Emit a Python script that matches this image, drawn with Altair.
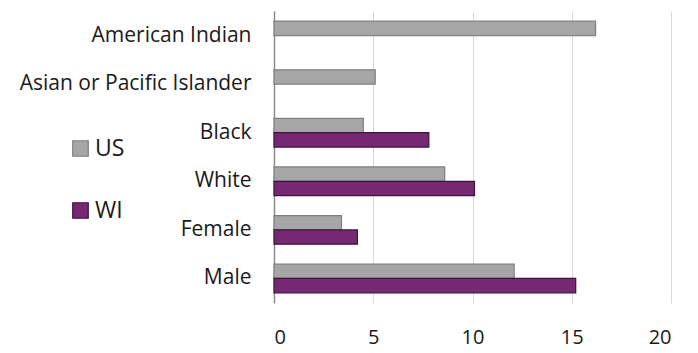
import altair as alt
import pandas as pd

categories = ["American Indian", "Asian or Pacific Islander", "Black", "White", "Female", "Male"]
us_values = [16.2, 5.1, 4.5, 8.6, 3.4, 12.1]
wi_values = [None, None, 7.8, 10.1, 4.2, 15.2]
series = ["US", "WI"]
x_ticks = [0, 5, 10, 15, 20]

rows = []
for c, u, w in zip(categories, us_values, wi_values):
    rows.append({"cat": c, "series": "US", "value": u})
    rows.append({"cat": c, "series": "WI", "value": w})
df = pd.DataFrame(rows)

FONT = "Open Sans"

chart = alt.Chart(df).mark_bar(strokeWidth=1.2).encode(
    y=alt.Y("cat:N", sort=categories, title=None,
            scale=alt.Scale(paddingInner=0.41, paddingOuter=0.21),
            axis=alt.Axis(ticks=False, labelPadding=23, labelFontSize=21, labelColor="#1a1a1a",
                          labelFont=FONT, domainColor="#8C8C8C", domainWidth=1.5, labelLimit=300)),
    yOffset=alt.YOffset("series:N", sort=series),
    x=alt.X("value:Q", title=None, scale=alt.Scale(domain=[0, 20], nice=False),
            axis=alt.Axis(values=x_ticks, grid=True, gridColor="#D9D9D9", gridWidth=1,
                          domain=False, ticks=False,
                          labelPadding=24, labelFontSize=20, labelColor="#1a1a1a", labelFont=FONT)),
    fill=alt.Fill("series:N", sort=series,
                  scale=alt.Scale(domain=series, range=["#A6A6A6", "#772873"]),
                  legend=alt.Legend(title=None, orient="none", legendX=-205, legendY=126,
                                    symbolType="square", symbolSize=240, symbolStrokeWidth=1.2,
                                    labelFontSize=23, labelFont=FONT, labelColor="#1a1a1a",
                                    rowPadding=38, labelOffset=3)),
    stroke=alt.Stroke("series:N", sort=series,
                      scale=alt.Scale(domain=series, range=["#7F7F7F", "#3D1240"]),
                      legend=None),
).properties(
    width=397, height=292,
    autosize=alt.AutoSizeParams(type="none"),
    padding={"left": 274, "top": 11, "right": 27, "bottom": 50},
).configure(background="white").configure_view(stroke=None)

chart.save("out.html", embed_options={"renderer": "svg", "actions": False})
